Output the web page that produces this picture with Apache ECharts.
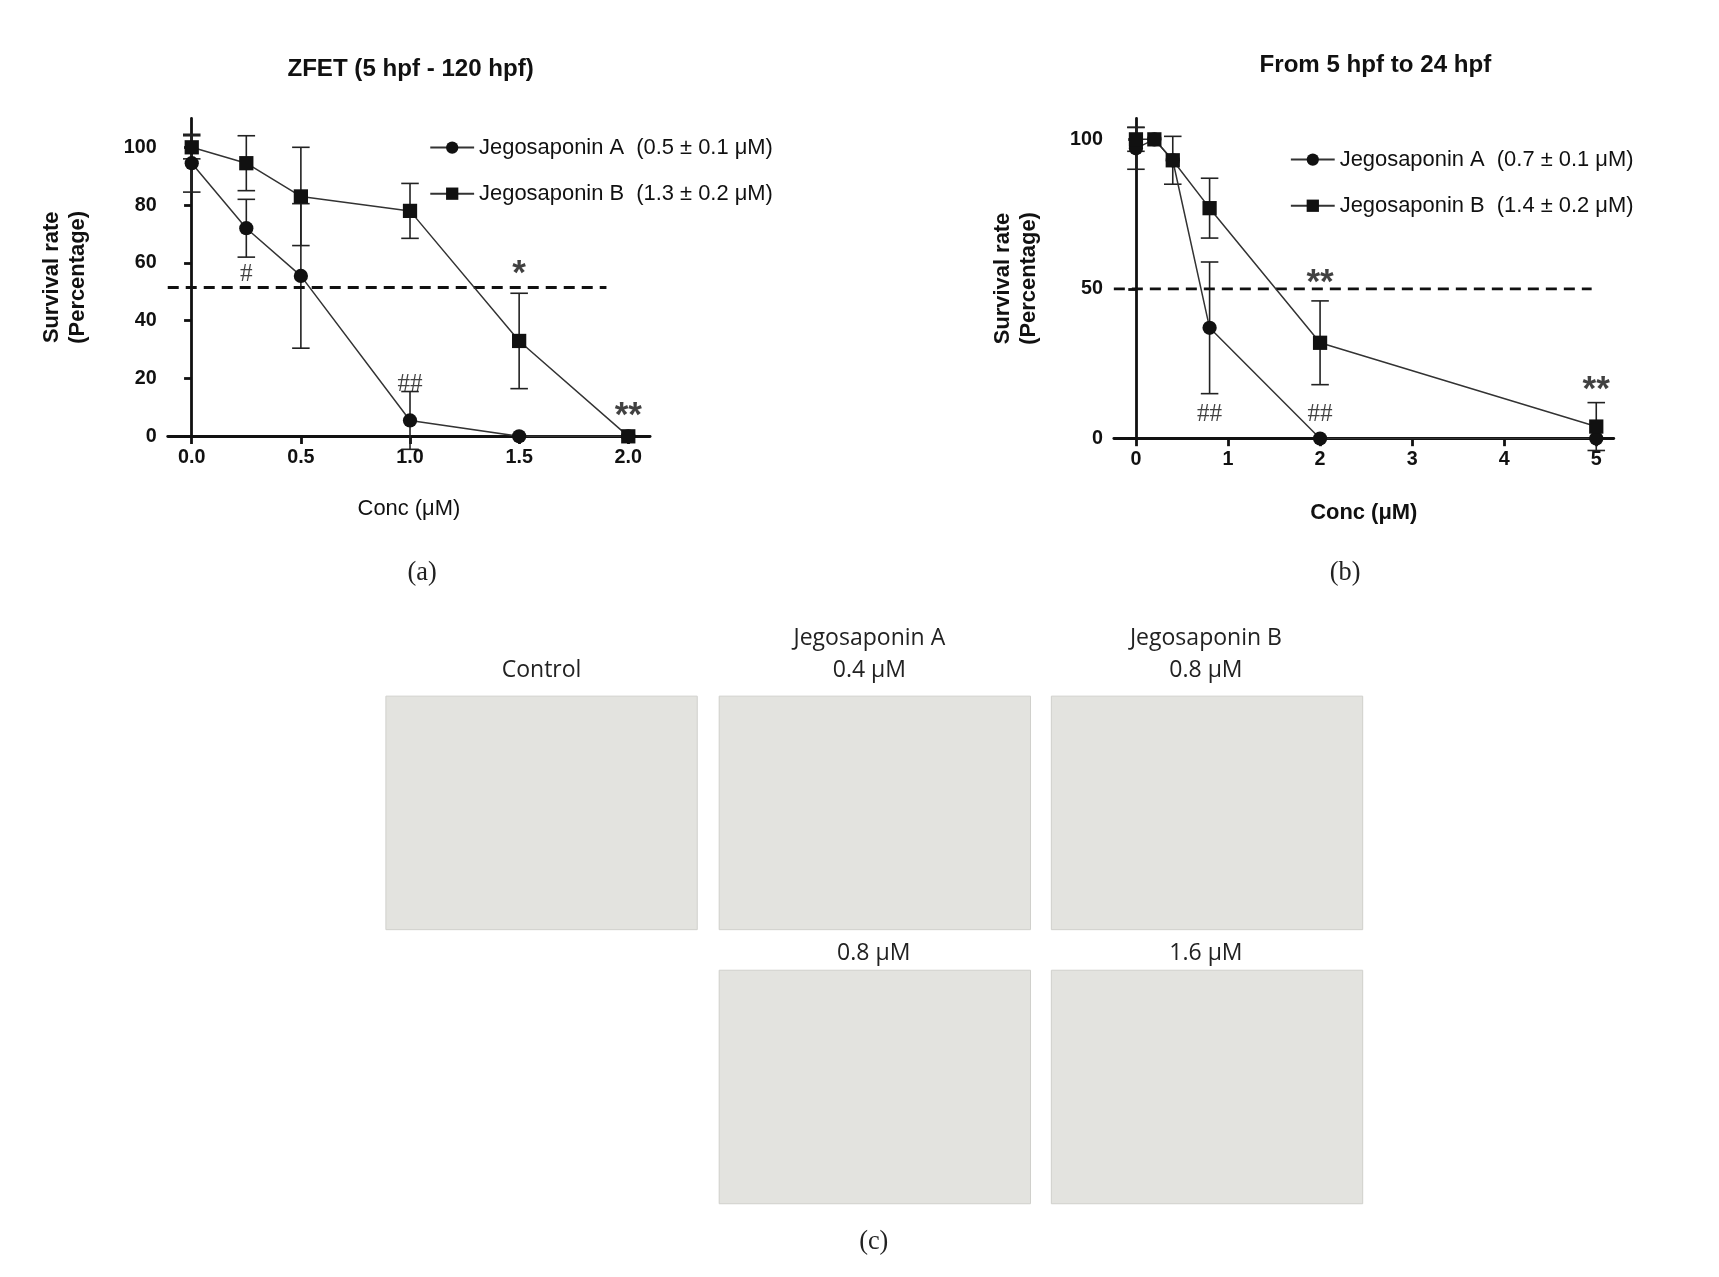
<!DOCTYPE html>
<html><head><meta charset="utf-8">
<script src="https://cdn.jsdelivr.net/npm/echarts@6/dist/echarts.min.js"></script>
<style>html,body{margin:0;padding:0;background:#fff}#c{width:1719px;height:1277px}</style>
</head><body><div id="c"></div>
<script>
// Panel (a)
const aX = [0, 0.25, 0.5, 1.0, 1.5, 2.0];
const aA = [94.5, 72, 55.5, 5.5, 0, 0];
const aAerr = [10, 10, 25, 10, 0, 0];
const aB = [100, 94.5, 83, 78, 33, 0];
const aBerr = [4, 9.5, 17, 9.5, 16.5, 0];
const aXTicks = [0, 0.5, 1.0, 1.5, 2.0];
const aYTicks = [0, 20, 40, 60, 80, 100];
const aNotes = [['#', 0.25, 56, false], ['*', 1.5, 56, true], ['##', 1.0, 18, false], ['**', 2.0, 7, true]];
// Panel (b)
const bX = [0, 0.2, 0.4, 0.8, 2, 5];
const bA = [97, 100, 93, 37, 0, 0];
const bAerr = [7, 0, 0, 22, 0, 0];
const bB = [100, 100, 93, 77, 32, 4];
const bBerr = [4, 0, 8, 10, 14, 8];
const bXTicks = [0, 1, 2, 3, 4, 5];
const bYTicks = [0, 50, 100];
const bNotes = [['**', 2, 52, true], ['##', 0.8, 8, false], ['##', 2, 8, false], ['**', 5, 16, true]];

const K = 1719 / 1568;
const s = v => v * K;
const chart = echarts.init(document.getElementById('c'));
const F = 'Liberation Sans, Arial, sans-serif';
const pts = (xs, ys) => xs.map((x, i) => [x, ys[i]]);
function errSeries(xi, yi, xs, ys, es) {
  return {
    type: 'custom', xAxisIndex: xi, yAxisIndex: yi, silent: true, z: 1,
    data: xs.map((x, i) => [x, ys[i], es[i]]).filter(d => d[2] > 0),
    renderItem: (p, api) => {
      const x = api.value(0), y = api.value(1), e = api.value(2);
      const t = api.coord([x, y + e]), b = api.coord([x, y - e]);
      const w = s(8), st = {stroke: '#222', lineWidth: 1.6};
      return {type: 'group', children: [
        {type: 'line', shape: {x1: t[0], y1: t[1], x2: b[0], y2: b[1]}, style: st},
        {type: 'line', shape: {x1: t[0]-w, y1: t[1], x2: t[0]+w, y2: t[1]}, style: st},
        {type: 'line', shape: {x1: b[0]-w, y1: b[1], x2: b[0]+w, y2: b[1]}, style: st}]};
    }
  };
}
function lineS(name, xi, yi, xs, ys, sym) {
  return {name, type: 'line', xAxisIndex: xi, yAxisIndex: yi, data: pts(xs, ys), symbol: sym,
    symbolSize: s(13), itemStyle: {color: '#111'}, lineStyle: {color: '#333', width: 1.5}, z: 3};
}
function notes(xi, yi, arr) {
  return {type: 'scatter', xAxisIndex: xi, yAxisIndex: yi, symbolSize: 0, silent: true, z: 4,
    data: arr.map(n => ({value: [n[1], n[2]], label: {show: true, formatter: n[0], position: 'inside',
      fontSize: s(n[3] ? 32 : 23), fontWeight: n[3] ? 'bold' : 'normal', fontFamily: n[3] ? F : 'Liberation Serif', color: '#111'}}))};
}
function dash(xi, yi, x1, x2, y) {
  return {type: 'line', xAxisIndex: xi, yAxisIndex: yi, data: [[x1, y], [x2, y]], symbol: 'none', silent: true,
    lineStyle: {color: '#111', width: 2.8, type: [11, 7]}, z: 2};
}
const axLine = {show: true, lineStyle: {color: '#111', width: 2.8}};
const tick = vals => ({show: true, customValues: vals, length: s(7), lineStyle: {color: '#111', width: 2.8}});
const lab = (vals, fmt) => ({customValues: vals, formatter: fmt, margin: s(10), fontFamily: F, fontWeight: 'bold', fontSize: s(18), color: '#111'});
const nameSt = (bold) => ({fontFamily: F, fontSize: s(20), fontWeight: bold ? 'bold' : 'normal', color: '#111'});

const boxes = [[352,635],[656,635],[959,635],[656,885],[959,885]];
const texts = [['Control',494,612],['Jegosaponin A',793,582],['0.4 μM',793,612],['Jegosaponin B',1100,582],['0.8 μM',1100,612],['0.8 μM',797,870],['1.6 μM',1100,870],
  ['(a)',385,523],['(b)',1227,523],['(c)',797,1133]];

chart.setOption({
  animation: false,
  title: [
    {text: 'ZFET (5 hpf - 120 hpf)', left: s(370), top: s(48), textAlign: 'center', textStyle: {fontFamily: F, fontWeight: 'bold', fontSize: s(22), color: '#111'}},
    {text: 'From 5 hpf to 24 hpf', left: s(1250), top: s(44), textAlign: 'center', textStyle: {fontFamily: F, fontWeight: 'bold', fontSize: s(22), color: '#111'}}
  ],
  legend: [
    {orient: 'vertical', left: s(387), top: s(120), itemGap: s(22), itemWidth: s(40), itemHeight: s(14), data: ['Jegosaponin A  (0.5 ± 0.1 μM)', 'Jegosaponin B  (1.3 ± 0.2 μM)'],
      textStyle: {fontFamily: F, fontSize: s(20), color: '#111'}},
    {orient: 'vertical', left: s(1172), top: s(131), itemGap: s(22), itemWidth: s(40), itemHeight: s(14), data: ['Jegosaponin A  (0.7 ± 0.1 μM)', 'Jegosaponin B  (1.4 ± 0.2 μM)'],
      textStyle: {fontFamily: F, fontSize: s(20), color: '#111'}}
  ],
  grid: [
    {left: s(153), top: s(108), width: s(440), height: s(290)},
    {left: s(1016), top: s(108), width: s(456), height: s(292)}
  ],
  xAxis: [
    {gridIndex: 0, type: 'value', min: -0.11, max: 2.1, name: 'Conc (μM)', nameLocation: 'middle', nameGap: s(56), nameTextStyle: nameSt(false),
      axisLine: axLine, axisTick: tick(aXTicks), axisLabel: lab(aXTicks, v => v.toFixed(1)), splitLine: {show: false}},
    {gridIndex: 1, type: 'value', min: -0.24, max: 5.19, name: 'Conc (μM)', nameLocation: 'middle', nameGap: s(58), nameTextStyle: nameSt(true),
      axisLine: axLine, axisTick: tick(bXTicks), axisLabel: lab(bXTicks, v => String(v)), splitLine: {show: false}}
  ],
  yAxis: [
    {gridIndex: 0, type: 'value', min: 0, max: 110, name: 'Survival rate\n(Percentage)', nameLocation: 'middle', nameGap: s(70), nameTextStyle: Object.assign(nameSt(true), {lineHeight: s(24)}),
      axisLine: axLine, axisTick: tick(aYTicks), axisLabel: lab(aYTicks, v => String(v)), splitLine: {show: false}},
    {gridIndex: 1, type: 'value', min: 0, max: 107, name: 'Survival rate\n(Percentage)', nameLocation: 'middle', nameGap: s(65), nameTextStyle: Object.assign(nameSt(true), {lineHeight: s(24)}),
      axisLine: axLine, axisTick: tick(bYTicks), axisLabel: lab(bYTicks, v => String(v)), splitLine: {show: false}}
  ],
  series: [
    dash(0, 0, -0.11, 1.9, 51.5),
    dash(1, 1, -0.24, 4.95, 50),
    errSeries(0, 0, aX, aA, aAerr), errSeries(0, 0, aX, aB, aBerr),
    errSeries(1, 1, bX, bA, bAerr), errSeries(1, 1, bX, bB, bBerr),
    lineS('Jegosaponin A  (0.5 ± 0.1 μM)', 0, 0, aX, aA, 'circle'),
    lineS('Jegosaponin B  (1.3 ± 0.2 μM)', 0, 0, aX, aB, 'rect'),
    lineS('Jegosaponin A  (0.7 ± 0.1 μM)', 1, 1, bX, bA, 'circle'),
    lineS('Jegosaponin B  (1.4 ± 0.2 μM)', 1, 1, bX, bB, 'rect'),
    notes(0, 0, aNotes), notes(1, 1, bNotes)
  ],
  graphic: boxes.map(b => ({type: 'rect', shape: {x: s(b[0]), y: s(b[1]), width: s(284), height: s(213)}, style: {fill: '#e3e3df', stroke: '#d0d0cc'}}))
    .concat(texts.map(t => ({type: 'text', x: s(t[1]), y: s(t[2]), style: {text: t[0], fontSize: s(t[0].startsWith('(') ? 24 : 21),
      fontFamily: t[0].startsWith('(') ? 'Liberation Serif' : 'Open Sans, Noto Sans, sans-serif', fill: '#222', align: 'center', verticalAlign: 'middle'}})))
});
</script></body></html>
